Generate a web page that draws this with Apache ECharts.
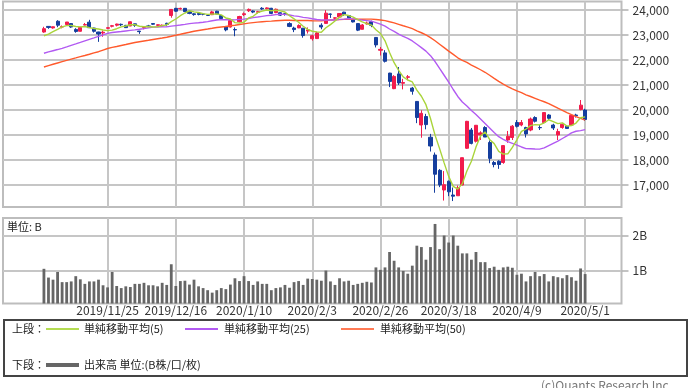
<!DOCTYPE html>
<html><head><meta charset="utf-8">
<script src="https://cdn.jsdelivr.net/npm/echarts@6/dist/echarts.min.js"></script>
<style>html,body{margin:0;padding:0;background:#fff;}#c{width:690px;height:388px;}</style>
</head><body><div id="c"></div>
<script>
const categories = [
'2019/10/21','2019/10/23','2019/10/24','2019/10/25','2019/10/28','2019/10/29','2019/10/30','2019/10/31','2019/11/1',
'2019/11/5','2019/11/6','2019/11/7','2019/11/8','2019/11/11','2019/11/12','2019/11/13','2019/11/14','2019/11/15','2019/11/18','2019/11/19','2019/11/20','2019/11/21','2019/11/22','2019/11/25','2019/11/26','2019/11/27','2019/11/28','2019/11/29',
'2019/12/2','2019/12/3','2019/12/4','2019/12/5','2019/12/6','2019/12/9','2019/12/10','2019/12/11','2019/12/12','2019/12/13','2019/12/16','2019/12/17','2019/12/18','2019/12/19','2019/12/20','2019/12/23','2019/12/24','2019/12/25','2019/12/26','2019/12/27','2019/12/30',
'2020/1/6','2020/1/7','2020/1/8','2020/1/9','2020/1/10','2020/1/14','2020/1/15','2020/1/16','2020/1/17','2020/1/20','2020/1/21','2020/1/22','2020/1/23','2020/1/24','2020/1/27','2020/1/28','2020/1/29','2020/1/30','2020/1/31',
'2020/2/3','2020/2/4','2020/2/5','2020/2/6','2020/2/7','2020/2/10','2020/2/12','2020/2/13','2020/2/14','2020/2/17','2020/2/18','2020/2/19','2020/2/20','2020/2/21','2020/2/25','2020/2/26','2020/2/27','2020/2/28',
'2020/3/2','2020/3/3','2020/3/4','2020/3/5','2020/3/6','2020/3/9','2020/3/10','2020/3/11','2020/3/12','2020/3/13','2020/3/16','2020/3/17','2020/3/18','2020/3/19','2020/3/23','2020/3/24','2020/3/25','2020/3/26','2020/3/27','2020/3/30','2020/3/31',
'2020/4/1','2020/4/2','2020/4/3','2020/4/6','2020/4/7','2020/4/8','2020/4/9','2020/4/10','2020/4/13','2020/4/14','2020/4/15','2020/4/16','2020/4/17','2020/4/20','2020/4/21','2020/4/22','2020/4/23','2020/4/24','2020/4/27','2020/4/28','2020/4/30','2020/5/1',
'2020/5/7','2020/5/8','2020/5/11','2020/5/12','2020/5/13','2020/5/14','2020/5/15','2020/5/18'];
const firstDate = '2019/11/5';
const xTickLabels = ['2019/11/25','2019/12/16','2020/1/10','2020/2/3','2020/2/26','2020/3/18','2020/4/9','2020/5/1'];
const priceTicks = [17000,18000,19000,20000,21000,22000,23000,24000];
const volumeTicks = [1,2];

const opens = [
23119,23344,23283,23550,23319,23417,23456,23223,23150,23397,
23513,23279,23120,23080,23267,23349,23392,23428,23386,23361,
23447,23158,23288,23357,23458,23386,23358,23467,23779,24066,
24046,24067,23950,23848,23860,23835,23788,23813,23952,23776,
23319,23320,23217,23530,23813,23969,23960,23909,24070,24048,
24069,23896,23890,23852,23457,23277,23284,23272,23157,22850,
22856,23390,23464,23838,23675,23719,23914,23775,23622,23458,
23229,23443,23535,22902,22390,22285,21476,20854,21444,21069,
21307,20877,20343,19400,19739,18911,18200,17586,16800,17154,
16600,16570,17000,18470,19200,18750,19000,19300,18700,17900,
17950,17900,18800,18900,19500,19400,19300,19200,19700,19300,
19500,19800,19400,19000,19300,19350,19400,19800,20018,20000];
const highs = [
23329,23353,23336,23592,23381,23520,23467,23273,23331,23481,
23608,23289,23130,23179,23310,23402,23452,23457,23403,23544,
23448,23161,23334,23405,23458,23427,23420,23491,24041,24085,
24091,24076,23982,23873,23894,23856,23813,23967,23967,23782,
23365,23577,23303,23767,23903,24059,23985,23964,24115,24108,
24085,24057,23902,23883,23512,23331,23426,23278,23302,23014,
23128,23470,23995,23858,23703,23873,23928,23775,23638,23458,
23439,23536,23575,22906,22520,22394,21488,21394,21719,21246,
21399,20922,20347,19990,19846,19045,18300,17634,17557,17175,
16900,16978,18100,19565,19281,19400,19150,19353,18784,17960,
17990,18600,19162,19400,19600,19600,19330,19700,19750,19400,
19900,19830,19450,19250,19450,19400,19800,19850,20400,20050];
const lows = [
23091,23247,23253,23313,23266,23376,23289,23091,23137,23385,
23292,23096,22726,22930,23240,23305,23345,23356,23279,23354,
23326,23044,23226,23331,23401,23339,23336,23348,23692,23932,
24014,23923,23831,23771,23787,23787,23759,23797,23837,23656,
23148,23299,22951,23506,23761,23920,23874,23860,24004,24013,
23834,23873,23759,23775,23314,23115,23273,22892,23059,22775,
22843,23230,23451,23685,23593,23719,23761,23623,23502,23156,
23226,23418,23314,22502,22180,21900,20916,20834,21000,20825,
21195,20613,19474,18891,19226,18339,16690,16914,16378,16554,
16358,16570,16990,18440,18625,18700,18800,18917,17871,17707,
17646,17850,18689,18800,19300,19350,18900,19150,19500,19200,
19460,19600,19200,18800,19250,19250,19400,19700,19985,19570];
const closes = [
23252,23304,23330,23392,23332,23520,23320,23142,23303,23417,
23293,23149,23039,23113,23293,23373,23438,23409,23294,23530,
23380,23135,23300,23354,23431,23410,23392,23425,24023,23952,
24066,23934,23865,23817,23821,23831,23783,23925,23838,23657,
23205,23576,23205,23740,23851,24025,23917,23933,24041,24084,
23865,24031,23795,23827,23344,23216,23379,22978,23205,22972,
23085,23320,23874,23828,23686,23861,23828,23688,23523,23194,
23401,23479,23387,22605,22426,21948,21143,21344,21083,21100,
21329,20750,19699,19867,19416,18560,17431,17002,17012,16727,
16553,16888,18092,19547,18665,19389,19085,18917,18065,17819,
17820,18576,18950,19353,19346,19499,19043,19639,19550,19290,
19897,19669,19281,19138,19429,19262,19783,19771,20194,19619];
const ma5 = [
22969,23035,23133,23226,23322,23376,23379,23341,23323,23340,
23295,23261,23240,23202,23177,23193,23251,23325,23361,23409,
23410,23350,23328,23340,23320,23326,23377,23402,23536,23640,
23772,23880,23968,23927,23901,23854,23823,23835,23840,23807,
23682,23640,23496,23477,23515,23679,23748,23893,23953,24000,
23968,23991,23963,23920,23772,23643,23512,23349,23224,23150,
23124,23112,23291,23416,23559,23714,23815,23778,23717,23619,
23527,23457,23397,23213,23060,22769,22302,21893,21589,21324,
21200,21121,20792,20549,20212,19658,18995,18455,17884,17346,
16945,16836,17054,17561,17949,18516,18956,19121,18824,18655,
18341,18239,18246,18504,18809,19145,19238,19376,19415,19404,
19484,19609,19537,19455,19483,19356,19379,19477,19688,19726];
const ma25 = [
22270,22325,22372,22418,22468,22527,22588,22645,22706,22768,
22826,22884,22946,23004,23066,23098,23121,23139,23162,23183,
23204,23228,23257,23288,23314,23320,23324,23327,23353,23377,
23399,23424,23453,23473,23489,23511,23536,23572,23601,23615,
23609,23614,23606,23624,23637,23662,23694,23719,23747,23773,
23791,23816,23831,23823,23799,23765,23743,23707,23683,23649,
23619,23601,23599,23598,23599,23626,23636,23655,23646,23620,
23595,23577,23556,23498,23432,23355,23240,23142,23032,22942,
22867,22761,22630,22497,22355,22174,21938,21663,21390,21112,
20820,20542,20318,20159,19978,19818,19642,19463,19282,19097,
18932,18829,18734,18664,18594,18521,18453,18450,18438,18433,
18486,18576,18667,18752,18860,18968,19084,19151,19177,19215];
const ma50 = [
21720,21776,21829,21881,21933,21984,22036,22083,22134,22182,
22231,22283,22332,22398,22459,22503,22541,22582,22619,22661,
22698,22731,22762,22789,22822,22851,22879,22912,22951,22992,
23031,23072,23108,23149,23181,23212,23239,23268,23298,23321,
23342,23368,23391,23418,23447,23473,23497,23514,23531,23543,
23555,23570,23579,23588,23588,23582,23583,23580,23578,23569,
23565,23568,23585,23599,23607,23617,23625,23630,23635,23628,
23629,23636,23637,23622,23602,23573,23528,23486,23428,23371,
23316,23252,23169,23090,23002,22896,22769,22631,22494,22356,
22223,22089,21987,21903,21799,21706,21610,21509,21390,21265,
21144,21035,20938,20848,20768,20694,20607,20540,20467,20394,
20330,20257,20165,20071,19986,19894,19813,19735,19668,19597];
const volumes = [
1.05,0.80,0.74,0.96,0.67,0.67,0.69,0.84,0.75,0.62,
0.69,0.69,0.74,0.58,0.52,0.96,0.56,0.50,0.55,0.53,
0.62,0.62,0.65,0.58,0.58,0.55,0.65,0.59,1.18,0.56,
0.70,0.71,0.60,0.74,0.55,0.50,0.44,0.37,0.44,0.50,
0.47,0.60,0.78,0.70,0.84,0.70,0.59,0.69,0.62,0.62,
0.44,0.50,0.52,0.59,0.51,0.67,0.70,0.59,0.77,0.76,
0.74,0.71,1.00,0.69,0.59,0.78,0.69,0.71,0.59,0.62,
0.65,0.68,0.66,1.09,1.02,1.09,1.53,1.28,1.09,0.99,
0.91,1.14,1.71,1.67,1.31,1.67,2.33,1.61,2.00,1.80,
2.00,1.71,1.49,1.49,1.31,1.53,1.24,1.24,1.07,1.11,
1.02,1.09,1.11,1.08,0.88,0.91,0.69,0.84,0.96,0.84,
0.90,0.69,0.84,0.81,0.78,0.87,0.81,0.71,1.06,0.90];

const start = categories.indexOf(firstDate);
function place(arr) {
  const out = categories.map(() => '-');
  arr.forEach((v, i) => { out[start + i] = v; });
  return out;
}
const candleData = categories.map(() => '-');
closes.forEach((c, i) => { candleData[start + i] = [opens[i], c, lows[i], highs[i]]; });

const FONT = '"Noto Sans CJK JP","Noto Sans",sans-serif';
const GRID_C = '#c6c6c6';
const showTick = (idx, val) => xTickLabels.indexOf(val) >= 0;

const chart = echarts.init(document.getElementById('c'), null, {renderer: 'canvas'});
chart.setOption({
  animation: false,
  backgroundColor: '#fff',
  textStyle: {fontFamily: FONT},
  grid: [
    {left: 3, right: 68.5, top: 1.5, height: 205.5, show: true, borderColor: '#bdbdbd', borderWidth: 2, backgroundColor: 'transparent'},
    {left: 3, right: 68.5, top: 218, height: 85.5, show: true, borderColor: '#bdbdbd', borderWidth: 2, backgroundColor: 'transparent'}
  ],
  xAxis: [
    {type: 'category', gridIndex: 0, data: categories, boundaryGap: false,
     axisLine: {show: false}, axisTick: {show: false}, axisLabel: {show: false},
     splitLine: {show: true, interval: showTick, lineStyle: {color: GRID_C, width: 2}}},
    {type: 'category', gridIndex: 1, data: categories, boundaryGap: false,
     axisLine: {show: false}, axisTick: {show: false},
     axisLabel: {show: true, interval: showTick, color: '#333', fontSize: 12, margin: 1, fontFamily: FONT},
     splitLine: {show: true, interval: showTick, lineStyle: {color: GRID_C, width: 2}}}
  ],
  yAxis: [
    {type: 'value', gridIndex: 0, position: 'right', min: 16120, max: 24340, splitNumber: 8, scale: true,
     axisLine: {show: false},
     axisTick: {show: true, length: 7, customValues: priceTicks, lineStyle: {color: '#b0b0b0', width: 1.5}},
     axisLabel: {show: true, customValues: priceTicks, margin: 11, color: '#333', fontSize: 12, fontFamily: FONT,
       formatter: v => Number(v).toLocaleString('en-US')},
     splitLine: {show: true, lineStyle: {color: GRID_C, width: 2}}},
    {type: 'value', gridIndex: 1, position: 'right', min: 0.06, max: 2.5, splitNumber: 2,
     axisLine: {show: false},
     axisTick: {show: true, length: 7, customValues: volumeTicks, lineStyle: {color: '#b0b0b0', width: 1.5}},
     axisLabel: {show: true, customValues: volumeTicks, margin: 11, color: '#333', fontSize: 12, fontFamily: FONT,
       formatter: v => v + 'B'},
     splitLine: {show: true, lineStyle: {color: GRID_C, width: 2}}}
  ],
  series: [
    {type: 'candlestick', xAxisIndex: 0, yAxisIndex: 0, data: candleData, barWidth: 3.6,
     itemStyle: {color: '#f21c4c', color0: '#153e9e', borderColor: '#f21c4c', borderColor0: '#153e9e', borderWidth: 1}},
    {type: 'line', xAxisIndex: 0, yAxisIndex: 0, data: place(ma50), showSymbol: false, smooth: false,
     lineStyle: {color: '#ff5a2c', width: 1.4}},
    {type: 'line', xAxisIndex: 0, yAxisIndex: 0, data: place(ma25), showSymbol: false,
     lineStyle: {color: '#b25af2', width: 1.4}},
    {type: 'line', xAxisIndex: 0, yAxisIndex: 0, data: place(ma5), showSymbol: false,
     lineStyle: {color: '#a9d43a', width: 1.4}},
    {type: 'bar', xAxisIndex: 1, yAxisIndex: 1, data: place(volumes), barWidth: 2.8,
     itemStyle: {color: '#666666'}}
  ],
  graphic: [
    {type: 'text', left: 7, top: 221, style: {text: '単位: B', font: '11px ' + FONT, fill: '#222'}},
    {type: 'rect', shape: {x: 4, y: 320, width: 683, height: 56}, style: {fill: 'none', stroke: '#444', lineWidth: 2}},
    {type: 'text', x: 12, y: 329, style: {text: '上段：', font: '11px ' + FONT, fill: '#222', verticalAlign: 'middle'}},
    {type: 'line', shape: {x1: 46, y1: 329, x2: 79, y2: 329}, style: {stroke: '#b4dc52', lineWidth: 2}},
    {type: 'text', x: 84, y: 329, style: {text: '単純移動平均(5)', font: '11px ' + FONT, fill: '#222', verticalAlign: 'middle'}},
    {type: 'line', shape: {x1: 185, y1: 329, x2: 218, y2: 329}, style: {stroke: '#b25af2', lineWidth: 2}},
    {type: 'text', x: 224, y: 329, style: {text: '単純移動平均(25)', font: '11px ' + FONT, fill: '#222', verticalAlign: 'middle'}},
    {type: 'line', shape: {x1: 341, y1: 329, x2: 374, y2: 329}, style: {stroke: '#ff7a55', lineWidth: 2}},
    {type: 'text', x: 380, y: 329, style: {text: '単純移動平均(50)', font: '11px ' + FONT, fill: '#222', verticalAlign: 'middle'}},
    {type: 'text', x: 12, y: 365, style: {text: '下段：', font: '11px ' + FONT, fill: '#222', verticalAlign: 'middle'}},
    {type: 'line', shape: {x1: 46, y1: 365, x2: 79, y2: 365}, style: {stroke: '#666', lineWidth: 4}},
    {type: 'text', x: 84, y: 365, style: {text: '出来高 単位:(B株/口/枚)', font: '11px ' + FONT, fill: '#222', verticalAlign: 'middle'}},
    {type: 'text', x: 541, y: 379, style: {text: '(c)Quants Research Inc.', font: '12px ' + FONT, fill: '#777', verticalAlign: 'top'}}
  ]
});
</script></body></html>
